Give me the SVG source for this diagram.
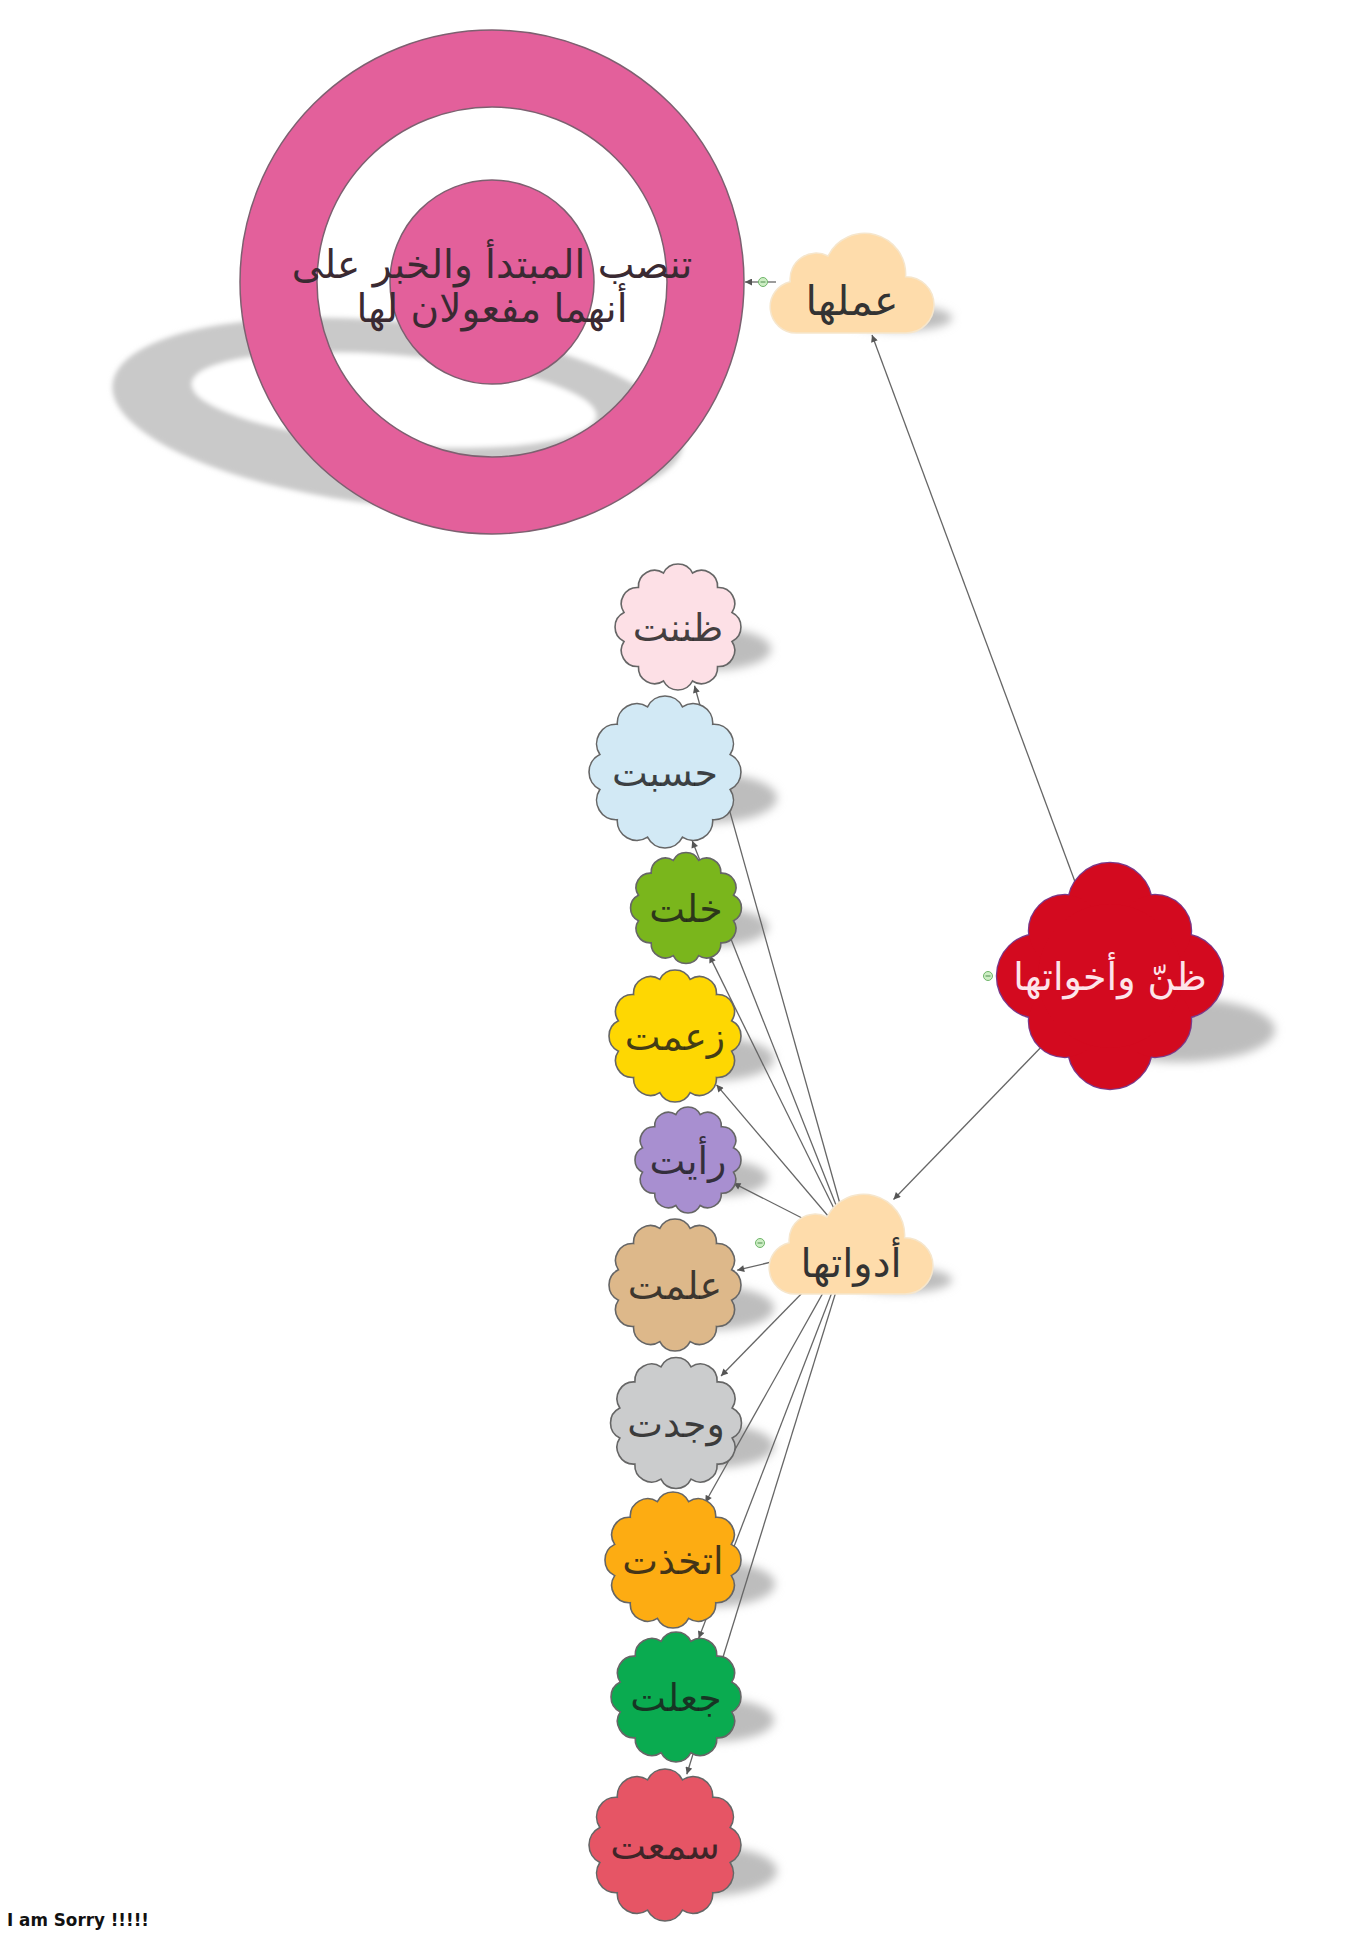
<svg xmlns="http://www.w3.org/2000/svg" xmlns:xlink="http://www.w3.org/1999/xlink" width="1349" height="1957" viewBox="0 0 1349 1957">
<style>
.ar { font-family: "DejaVu Sans", "Noto Sans", sans-serif; text-anchor: middle; }
.leaf { stroke: #666; }
.leaftxt { font-size: 38px; fill: #1a1a1a; fill-opacity: 0.82; }
.conn { stroke: #666; stroke-width: 1.3; fill: none; marker-end: url(#arrow); }
.shadow { fill: #bdbdbd; filter: url(#blur5); }
.cloud { fill: #fedcab; stroke: #f6e6cc; stroke-width: 1.5; }
.toggle { fill: #cdeec4; stroke: #6fb56a; stroke-width: 1; }
.toggle-bar { stroke: #4f8f4f; stroke-width: 1; }
</style>
<defs>
  <filter id="blur5" x="-30%" y="-60%" width="160%" height="220%"><feGaussianBlur stdDeviation="5"/></filter>
  <filter id="blur3" x="-10%" y="-20%" width="120%" height="140%"><feGaussianBlur stdDeviation="2.5"/></filter>
  <marker id="arrow" viewBox="0 0 10 10" refX="10" refY="5" markerUnits="userSpaceOnUse" markerWidth="9" markerHeight="7" orient="auto">
    <path d="M0,0 L10,5 L0,10 z" fill="#555"/>
  </marker>
  <path id="flower" vector-effect="non-scaling-stroke" stroke-width="1.6" d="M -23.29,-86.93 A26,26 0 0 1 23.29,-86.93 A26,26 0 0 1 63.64,-63.64 A26,26 0 0 1 86.93,-23.29 A26,26 0 0 1 86.93,23.29 A26,26 0 0 1 63.64,63.64 A26,26 0 0 1 23.29,86.93 A26,26 0 0 1 -23.29,86.93 A26,26 0 0 1 -63.64,63.64 A26,26 0 0 1 -86.93,23.29 A26,26 0 0 1 -86.93,-23.29 A26,26 0 0 1 -63.64,-63.64 A26,26 0 0 1 -23.29,-86.93 Z"/>
  <path id="cloudshape" d="M 26,104 A 26,26 0 0 1 20.2,52.7 A 26,26 0 0 1 58,27 A 41,41 0 0 1 135.6,47.7 A 28,28 0 1 1 136,104 Z"/>
</defs>

<rect width="1349" height="1957" fill="#ffffff"/>

<!-- shadows -->
<g id="shadows">
  <g filter="url(#blur3)">
    <ellipse cx="398" cy="414" rx="287" ry="92" fill="#c9c9c9" transform="rotate(6 398 414)"/>
    <ellipse cx="394" cy="400" rx="203" ry="45" fill="#ffffff" transform="rotate(4.7 394 400)"/>
  </g>
  <ellipse class="shadow" cx="900" cy="318" rx="52" ry="13"/>
  <ellipse class="shadow" cx="900" cy="1280" rx="52" ry="13"/>
  <ellipse class="shadow" cx="1180" cy="1030" rx="95" ry="32"/>
  <ellipse class="shadow" cx="713" cy="649" rx="58" ry="21"/>
  <ellipse class="shadow" cx="707" cy="798" rx="70" ry="25"/>
  <ellipse class="shadow" cx="716" cy="927" rx="52" ry="19"/>
  <ellipse class="shadow" cx="712" cy="1059" rx="62" ry="22"/>
  <ellipse class="shadow" cx="718" cy="1178" rx="50" ry="18"/>
  <ellipse class="shadow" cx="712" cy="1308" rx="62" ry="22"/>
  <ellipse class="shadow" cx="712" cy="1446" rx="62" ry="22"/>
  <ellipse class="shadow" cx="711" cy="1584" rx="64" ry="23"/>
  <ellipse class="shadow" cx="712" cy="1720" rx="62" ry="22"/>
  <ellipse class="shadow" cx="707" cy="1871" rx="70" ry="25"/>
</g>

<!-- connectors -->
<g id="connectors">
  <line class="conn" x1="776" y1="282" x2="745" y2="282"/>
  <line class="conn" x1="1110" y1="976" x2="872" y2="335"/>
  <line class="conn" x1="1110" y1="976" x2="893.5" y2="1199.5"/>
  <line class="conn" x1="851" y1="1243" x2="694.5" y2="685.7"/>
  <line class="conn" x1="851" y1="1243" x2="692.2" y2="840.8"/>
  <line class="conn" x1="851" y1="1243" x2="709.4" y2="955.6"/>
  <line class="conn" x1="851" y1="1243" x2="716.5" y2="1084.8"/>
  <line class="conn" x1="851" y1="1243" x2="733.5" y2="1183.1"/>
  <line class="conn" x1="851" y1="1243" x2="737.2" y2="1270.2"/>
  <line class="conn" x1="851" y1="1243" x2="721" y2="1376"/>
  <line class="conn" x1="851" y1="1243" x2="705.3" y2="1502.5"/>
  <line class="conn" x1="851" y1="1243" x2="698.7" y2="1638.2"/>
  <line class="conn" x1="851" y1="1243" x2="686.8" y2="1774.3"/>
</g>

<!-- ring node -->
<g id="node-ring">
  <path fill="#e3609b" stroke="#7d6070" stroke-width="1.5" fill-rule="evenodd" d="M 240,282 A 252,252 0 1 0 744,282 A 252,252 0 1 0 240,282 Z M 317,282 A 175,175 0 1 0 667,282 A 175,175 0 1 0 317,282 Z"/>
  <circle cx="492" cy="282" r="102" fill="#e3609b" stroke="#7d6070" stroke-width="1.5"/>
  <text class="ar" x="492" y="278" font-size="39" fill="#3a2a32">تنصب المبتدأ والخبر على</text>
  <text class="ar" x="492" y="322" font-size="39" fill="#3a2a32">أنهما مفعولان لها</text>
</g>

<!-- عملها -->
<g id="node-amaluha">
  <use href="#cloudshape" class="cloud" transform="translate(770,229)"/>
  <text class="ar" x="852" y="315" font-size="41" fill="#333">عملها</text>
  <circle class="toggle" cx="763" cy="282" r="4.5"/>
  <line class="toggle-bar" x1="760.5" y1="282" x2="765.5" y2="282"/>
</g>

<!-- main node -->
<g id="node-main">
  <g fill="#d30a1f" stroke="#7a3a8a" stroke-width="2.5">
    <circle cx="1110" cy="905" r="42"/>
    <circle cx="1110" cy="1047" r="42"/>
    <circle cx="1039" cy="976" r="42"/>
    <circle cx="1181" cy="976" r="42"/>
    <circle cx="1065" cy="931" r="36"/>
    <circle cx="1155" cy="931" r="36"/>
    <circle cx="1065" cy="1021" r="36"/>
    <circle cx="1155" cy="1021" r="36"/>
  </g>
  <g fill="#d30a1f">
    <circle cx="1110" cy="905" r="42"/>
    <circle cx="1110" cy="1047" r="42"/>
    <circle cx="1039" cy="976" r="42"/>
    <circle cx="1181" cy="976" r="42"/>
    <circle cx="1065" cy="931" r="36"/>
    <circle cx="1155" cy="931" r="36"/>
    <circle cx="1065" cy="1021" r="36"/>
    <circle cx="1155" cy="1021" r="36"/>
    <circle cx="1110" cy="976" r="72"/>
  </g>
  <text class="ar" x="1110" y="990" font-size="38" fill="#fde4ea">ظنّ وأخواتها</text>
  <circle class="toggle" cx="988" cy="976" r="4.5"/>
  <line class="toggle-bar" x1="985.5" y1="976" x2="990.5" y2="976"/>
</g>

<!-- أدواتها -->
<g id="node-adawatuha">
  <use href="#cloudshape" class="cloud" transform="translate(769,1190)"/>
  <text class="ar" x="851" y="1277" font-size="40" fill="#333">أدواتها</text>
  <circle class="toggle" cx="760" cy="1243" r="4.5"/>
  <line class="toggle-bar" x1="757.5" y1="1243" x2="762.5" y2="1243"/>
</g>

<!-- leaves -->
<g id="leaf-zanantu">
  <use href="#flower" class="leaf" fill="#fde0e6" transform="translate(678,627) scale(0.621)"/>
  <text class="ar leaftxt" x="678" y="641">ظننت</text>
</g>
<g id="leaf-hasibtu">
  <use href="#flower" class="leaf" fill="#d2e9f5" transform="translate(665,772) scale(0.7495)"/>
  <text class="ar leaftxt" x="665" y="786">حسبت</text>
</g>
<g id="leaf-khiltu">
  <use href="#flower" class="leaf" fill="#7ab61c" transform="translate(686,908) scale(0.547)"/>
  <text class="ar leaftxt" x="686" y="922">خلت</text>
</g>
<g id="leaf-zaamtu">
  <use href="#flower" class="leaf" fill="#fed702" transform="translate(675,1036) scale(0.651)"/>
  <text class="ar leaftxt" x="675" y="1050">زعمت</text>
</g>
<g id="leaf-raaytu">
  <use href="#flower" class="leaf" fill="#a88fd0" transform="translate(688,1160) scale(0.523)"/>
  <text class="ar leaftxt" x="688" y="1174">رأيت</text>
</g>
<g id="leaf-alimtu">
  <use href="#flower" class="leaf" fill="#ddb88a" transform="translate(675,1285) scale(0.651)"/>
  <text class="ar leaftxt" x="675" y="1299">علمت</text>
</g>
<g id="leaf-wajadtu">
  <use href="#flower" class="leaf" fill="#cbcccd" transform="translate(676,1423) scale(0.646)"/>
  <text class="ar leaftxt" x="676" y="1437">وجدت</text>
</g>
<g id="leaf-ittakhadhtu">
  <use href="#flower" class="leaf" fill="#fdac12" transform="translate(673,1560) scale(0.671)"/>
  <text class="ar leaftxt" x="673" y="1574">اتخذت</text>
</g>
<g id="leaf-jaaltu">
  <use href="#flower" class="leaf" fill="#0aab50" transform="translate(676,1697) scale(0.641)"/>
  <text class="ar leaftxt" x="676" y="1711">جعلت</text>
</g>
<g id="leaf-samitu">
  <use href="#flower" class="leaf" fill="#e65565" transform="translate(665,1845) scale(0.7495)"/>
  <text class="ar leaftxt" x="665" y="1859">سمعت</text>
</g>

<text x="7" y="1926" font-family="DejaVu Sans, sans-serif" font-weight="bold" font-size="18" textLength="142" lengthAdjust="spacingAndGlyphs" fill="#111">I am Sorry !!!!!</text>
</svg>
